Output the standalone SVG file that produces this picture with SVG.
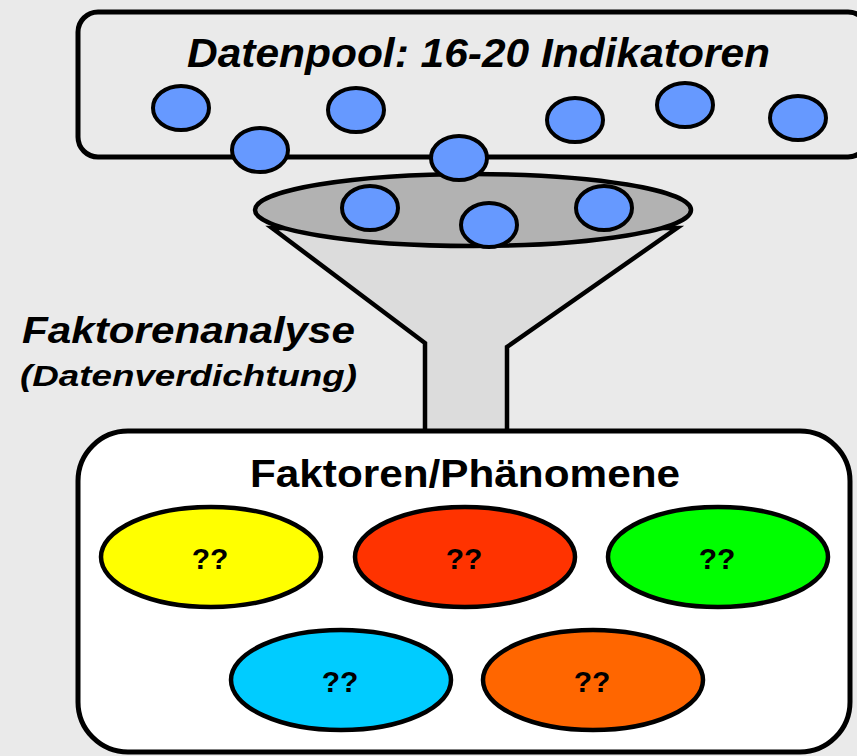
<svg xmlns="http://www.w3.org/2000/svg" width="857" height="756" viewBox="0 0 857 756">
<style>
.bx{stroke:#000;stroke-width:5}
.dot{fill:#6699ff;stroke:#000;stroke-width:4}
.f{stroke:#000;stroke-width:4.5}
.t{font-family:"Liberation Sans",Arial,sans-serif;font-weight:bold;fill:#000}
.q{font-family:"Liberation Sans",Arial,sans-serif;font-weight:bold;font-size:30px;text-anchor:middle}
</style>
<rect width="857" height="756" fill="#eaeaea"/>
<g id="datenpool">
<rect class="bx" x="78" y="12" width="790" height="145" rx="20" fill="#eaeaea"/>
<text class="t" x="187" y="67" font-size="41" font-style="italic" textLength="583" lengthAdjust="spacingAndGlyphs">Datenpool: 16-20 Indikatoren</text>
</g>
<g id="funnel">
<path class="f" d="M272,228 L425,343 L425,440 L507,440 L507,347 L677,228 Z" fill="#dcdcdc"/>
<ellipse class="f" cx="473" cy="210" rx="218" ry="36" fill="#b2b2b2"/>
</g>
<g id="indicators">
<ellipse class="dot" cx="181" cy="108" rx="28" ry="22"/>
<ellipse class="dot" cx="260" cy="150" rx="28" ry="22"/>
<ellipse class="dot" cx="356" cy="110" rx="28" ry="22"/>
<ellipse class="dot" cx="459" cy="158" rx="28" ry="22"/>
<ellipse class="dot" cx="575" cy="120" rx="28" ry="22"/>
<ellipse class="dot" cx="685" cy="105" rx="28" ry="22"/>
<ellipse class="dot" cx="798" cy="118" rx="28" ry="22"/>
<ellipse class="dot" cx="370" cy="208" rx="28" ry="22"/>
<ellipse class="dot" cx="489" cy="225" rx="28" ry="22"/>
<ellipse class="dot" cx="604" cy="208" rx="28" ry="22"/>
</g>
<g id="label">
<text class="t" x="22" y="343" font-size="37" font-style="italic" textLength="333" lengthAdjust="spacingAndGlyphs">Faktorenanalyse</text>
<text class="t" x="20" y="386" font-size="29" font-style="italic" textLength="337" lengthAdjust="spacingAndGlyphs">(Datenverdichtung)</text>
</g>
<g id="faktoren">
<rect class="bx" x="78" y="431" width="772" height="321" rx="50" fill="#ffffff"/>
<text class="t" x="250" y="487" font-size="39" textLength="430" lengthAdjust="spacingAndGlyphs">Faktoren/Phänomene</text>
</g>
<g id="f1"><ellipse class="f" cx="211" cy="557" rx="110" ry="50" fill="#ffff00"/><text class="q" x="210" y="569">??</text></g>
<g id="f2"><ellipse class="f" cx="465" cy="557" rx="110" ry="50" fill="#ff3300"/><text class="q" x="464" y="569">??</text></g>
<g id="f3"><ellipse class="f" cx="718" cy="557" rx="110" ry="50" fill="#00ff00"/><text class="q" x="717" y="569">??</text></g>
<g id="f4"><ellipse class="f" cx="341" cy="680" rx="110" ry="50" fill="#00ccff"/><text class="q" x="340" y="692">??</text></g>
<g id="f5"><ellipse class="f" cx="593" cy="680" rx="110" ry="50" fill="#ff6600"/><text class="q" x="592" y="692">??</text></g>
<g id="connectors"></g>
</svg>
